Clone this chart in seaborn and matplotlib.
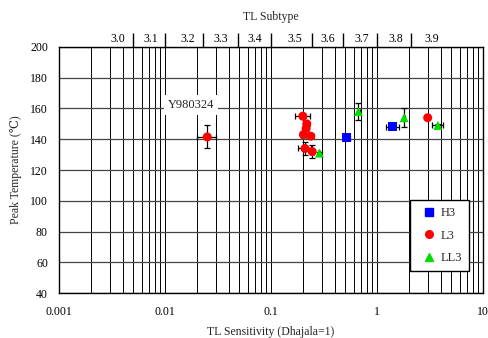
import numpy as np
import pandas as pd
import matplotlib
matplotlib.use("Agg")
import matplotlib.pyplot as plt
import seaborn as sns
from matplotlib.lines import Line2D

# ---------------- data ----------------
groups = ["H3", "L3", "LL3"]

h3_x = [0.52, 1.41]
h3_y = [141, 148]
h3_xlo = [0.49, 1.22]
h3_xhi = [0.55, 1.62]
h3_yerr = [1.0, 1.0]

l3_x = [0.025, 0.199, 0.217, 0.214, 0.202, 0.237, 0.209, 0.244, 3.0]
l3_y = [141.5, 155, 150, 147, 143, 142, 134, 132, 154]
l3_xlo = [0.020, 0.168, 0.205, 0.205, 0.190, 0.226, 0.181, 0.232, 3.0]
l3_xhi = [0.030, 0.233, 0.229, 0.224, 0.214, 0.248, 0.237, 0.256, 3.0]
l3_yerr = [7.5, 1.5, 1.5, 1.5, 1.5, 1.5, 4.5, 4.5, 0.0]

ll3_x = [0.286, 0.667, 1.80, 3.74]
ll3_y = [131, 158, 154, 149]
ll3_xlo = [0.280, 0.650, 1.76, 3.26]
ll3_xhi = [0.292, 0.684, 1.84, 4.20]
ll3_yerr = [1.0, 5.5, 6.0, 1.0]

subtype_labels = ["3.0", "3.1", "3.2", "3.3", "3.4", "3.5", "3.6", "3.7", "3.8", "3.9"]
subtype_label_pos = [0.0036, 0.0073, 0.0163, 0.0336, 0.0705, 0.168, 0.345, 0.71, 1.5, 3.25]
subtype_bounds = [0.005, 0.01, 0.023, 0.049, 0.1, 0.244, 0.477, 1.0, 2.09]

annot_text = "Y980324"

# ---------------- build frame ----------------
rows = []
for g, xs, ys, xlo, xhi, ye in [
    ("H3", h3_x, h3_y, h3_xlo, h3_xhi, h3_yerr),
    ("L3", l3_x, l3_y, l3_xlo, l3_xhi, l3_yerr),
    ("LL3", ll3_x, ll3_y, ll3_xlo, ll3_xhi, ll3_yerr),
]:
    for a, b, c, d, e in zip(xs, ys, xlo, xhi, ye):
        rows.append(dict(group=g, x=a, y=b, xlo=c, xhi=d, yerr=e))
df = pd.DataFrame(rows)

# ---------------- style ----------------
sns.set_theme(style="white")
plt.rcParams["font.family"] = ["Liberation Serif", "DejaVu Serif", "Noto Sans CJK JP"]
plt.rcParams["mathtext.fontset"] = "stix"

fig = plt.figure(figsize=(4.88, 3.38), dpi=100)
ax = fig.add_axes([0.121, 0.133, 0.869, 0.728])

ax.set_xscale("log")
ax.set_xlim(0.001, 10)
ax.set_ylim(40, 200)
ax.set_yticks(np.arange(40, 201, 20))

ax.grid(True, which="both", axis="x", color="black", lw=0.7)
ax.grid(True, which="major", axis="y", color="#444444", lw=0.9)
ax.set_axisbelow(True)

# error bars
for _, r in df.iterrows():
    ax.errorbar(r.x, r.y,
                xerr=[[r.x - r.xlo], [r.xhi - r.x]],
                yerr=r.yerr if r.yerr > 0 else None,
                fmt="none", ecolor="black", elinewidth=0.9, capsize=2.2, capthick=0.9, zorder=3)

palette = {"H3": "#0000ff", "L3": "#ff0000", "LL3": "#00dd00"}
markers = {"H3": "s", "L3": "o", "LL3": "^"}
sns.scatterplot(data=df, x="x", y="y", hue="group", style="group",
                palette=palette, markers=markers, hue_order=groups, style_order=groups,
                s=42, edgecolor="none", linewidth=0, ax=ax, legend=False, zorder=4)

ax.set_xticks([0.001, 0.01, 0.1, 1, 10])
ax.set_xticklabels(["0.001", "0.01", "0.1", "1", "10"])
ax.tick_params(axis="x", which="both", length=0, pad=9, labelsize=8.5, colors="black")
ax.tick_params(axis="y", which="both", length=0, pad=8, labelsize=8.5, colors="black")
ax.set_xlabel("TL Sensitivity (Dhajala=1)", fontsize=8.5, labelpad=6)
ax.set_ylabel("Peak Temperature (℃)", fontsize=8.5, labelpad=6)
for s in ax.spines.values():
    s.set_color("black")
    s.set_linewidth(1.0)

# annotation
ax.text(0.0175, 162.5, annot_text, fontsize=9, ha="center", va="center",
        bbox=dict(facecolor="white", edgecolor="none", pad=3), zorder=5)

# top axis: TL subtype
ax2 = ax.twiny()
ax2.set_xscale("log")
ax2.set_xlim(ax.get_xlim())
ax2.set_xticks(subtype_bounds)
ax2.set_xticklabels([""] * len(subtype_bounds))
ax2.set_xticks(subtype_label_pos, minor=True)
ax2.set_xticklabels(subtype_labels, minor=True)
ax2.tick_params(axis="x", which="major", direction="out", length=10, width=1.0, color="black")
ax2.tick_params(axis="x", which="minor", length=0, pad=1.5, labelsize=8.5, colors="black")
ax2.set_xlabel("TL Subtype", fontsize=8.5, labelpad=6)
ax2.grid(False)
for s in ax2.spines.values():
    s.set_visible(False)

# legend
handles = [Line2D([], [], ls="none", marker=markers[g], color=palette[g], markersize=5.5)
           for g in groups]
leg = ax.legend(handles, groups, loc="lower right", bbox_to_anchor=(0.967, 0.089),
                borderaxespad=0, frameon=True, fancybox=False, fontsize=9,
                labelspacing=0.85, handlelength=1.9, handletextpad=0.0,
                borderpad=0.55)
leg.get_frame().set_edgecolor("black")
leg.get_frame().set_linewidth(1.0)
leg.get_frame().set_facecolor("white")
leg.get_frame().set_alpha(1)

fig.savefig("out.png", dpi=100)
